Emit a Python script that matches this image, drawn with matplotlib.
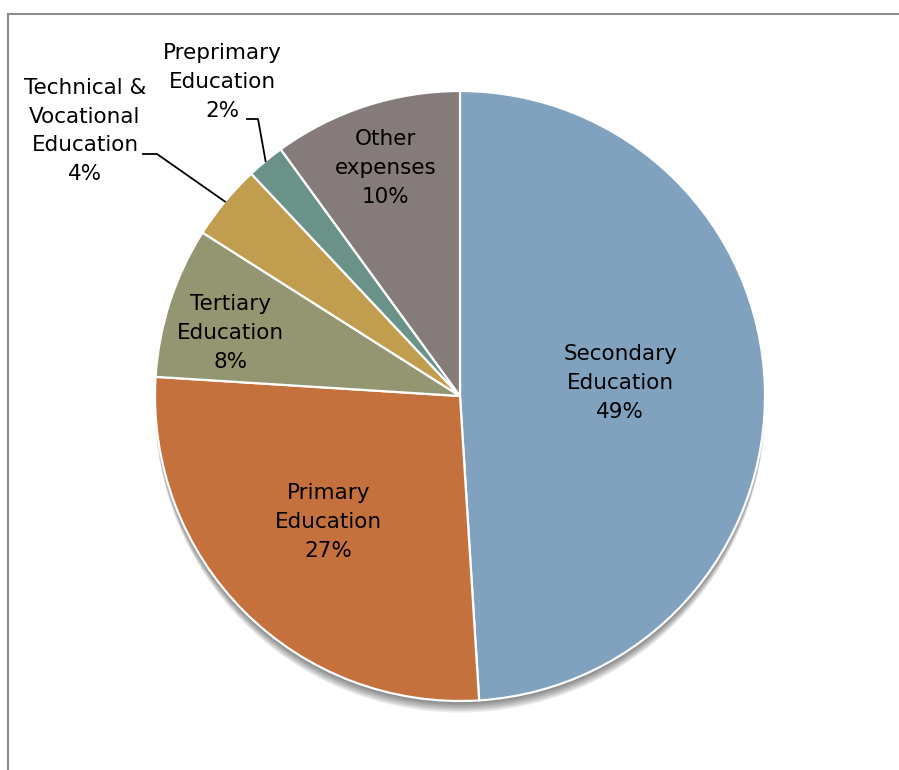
import numpy as np
import matplotlib
matplotlib.use("Agg")
import matplotlib.pyplot as plt
from matplotlib.patches import Circle
from matplotlib.lines import Line2D

# --- datos ---
categorias = ["Secondary\nEducation", "Primary\nEducation", "Tertiary\nEducation",
              "Technical &\nVocational\nEducation", "Preprimary\nEducation", "Other\nexpenses"]
porcentajes = [49, 27, 8, 4, 2, 10]
colores = ["#81A2BE", "#C5713D", "#939670", "#C19D50", "#6A9288", "#847B7A"]

plt.rcParams["font.family"] = ["DejaVu Sans"]

W, H = 899, 770
fig = plt.figure(figsize=(W / 100, H / 100), dpi=100)

# marco gris (solo arriba e izquierda visibles)
fig.add_artist(Line2D([8 / W, 1], [1 - 14 / H, 1 - 14 / H], color="#8C8C8C", lw=1.5))
fig.add_artist(Line2D([8 / W, 8 / W], [0, 1 - 14 / H], color="#8C8C8C", lw=1.5))

cx, cy, r = 460, 396, 305
ax = fig.add_axes([(cx - r) / W, (H - cy - r) / H, 2 * r / W, 2 * r / H])

# sombra suave bajo el pastel
for k in range(7):
    ax.add_patch(Circle((0, -0.008 - 0.005 * k), 1.0, color="black",
                        alpha=0.08, lw=0, zorder=0, clip_on=False))

wedges, _ = ax.pie(porcentajes, colors=colores, startangle=90, counterclock=False,
                   radius=1, wedgeprops=dict(edgecolor="white", linewidth=1.6, zorder=2))
ax.set_xlim(-1, 1)
ax.set_ylim(-1, 1)
ax.set_aspect("equal")
ax.axis("off")
for w in wedges:
    w.set_clip_on(False)

# posicion de etiquetas internas: fraccion del radio y ajuste angular (grados)
dist = [0.527, 0.596, 0.779, None, None, 0.786]
ajuste = [2.8, -1.2, 2.6, 0, 0, 0]
fs = 15.5
ls = 1.55

for w, cat, p, d, da in zip(wedges, categorias, porcentajes, dist, ajuste):
    ang = np.deg2rad((w.theta1 + w.theta2) / 2 + da)
    txt = f"{cat}\n{p}%"
    if d is not None:
        ax.text(d * np.cos(ang), d * np.sin(ang), txt, ha="center", va="center",
                fontsize=fs, linespacing=ls, zorder=5)

# etiquetas externas con lineas guia
def px(x, y):
    return (x - cx) / r, (cy - y) / r

externas = {3: ((85, 131), (143, 154), (157, 154)),
            4: ((222, 82), (247, 119), (258, 119))}
for i, (pos_txt, p1, p2) in externas.items():
    w = wedges[i]
    ang = np.deg2rad((w.theta1 + w.theta2) / 2)
    ex, ey = np.cos(ang), np.sin(ang)
    tx, ty = px(*pos_txt)
    ax.text(tx, ty, f"{categorias[i]}\n{porcentajes[i]}%", ha="center", va="center",
            fontsize=fs, linespacing=ls, zorder=5, clip_on=False)
    xa, ya = px(*p1)
    xb, yb = px(*p2)
    ax.plot([xa, xb, ex], [ya, yb, ey], color="black", lw=1.3, clip_on=False, zorder=4)

fig.savefig("out.png", dpi=100)
